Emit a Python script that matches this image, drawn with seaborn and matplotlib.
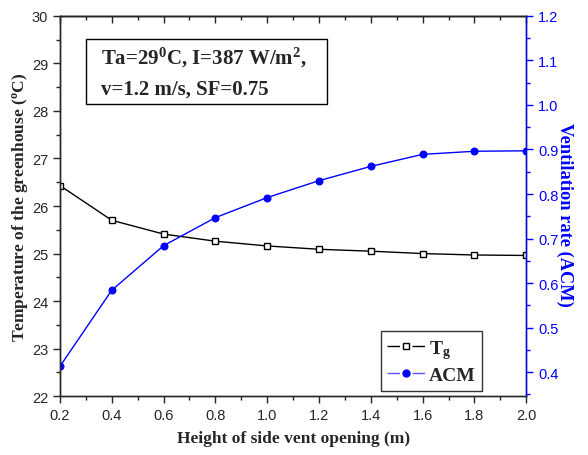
import matplotlib
matplotlib.use("Agg")
import matplotlib.pyplot as plt
import seaborn as sns
import pandas as pd
from matplotlib.ticker import MultipleLocator
from matplotlib.lines import Line2D
from matplotlib.patches import Rectangle

height = [0.2, 0.4, 0.6, 0.8, 1.0, 1.2, 1.4, 1.6, 1.8, 2.0]
tg = [26.43, 25.70, 25.41, 25.26, 25.16, 25.09, 25.05, 25.00, 24.97, 24.96]
acm = [0.413, 0.584, 0.684, 0.747, 0.792, 0.830, 0.862, 0.889, 0.896, 0.897]
x_ticks = [0.2, 0.4, 0.6, 0.8, 1.0, 1.2, 1.4, 1.6, 1.8, 2.0]
left_ticks = [22, 23, 24, 25, 26, 27, 28, 29, 30]
right_ticks = [0.4, 0.5, 0.6, 0.7, 0.8, 0.9, 1.0, 1.1, 1.2]

sns.set_style("ticks")
plt.rcParams['font.family'] = ['Liberation Sans', 'DejaVu Sans']
plt.rcParams['mathtext.fontset'] = 'custom'
plt.rcParams['mathtext.rm'] = 'Liberation Serif:bold'
plt.rcParams['mathtext.bf'] = 'Liberation Serif:bold'
plt.rcParams['mathtext.it'] = 'Liberation Serif:bold'

BLUE = "#0000FF"
df = pd.DataFrame({"h": height, "tg": tg, "acm": acm})

fig = plt.figure(figsize=(5.88, 4.56), dpi=100)
ax = fig.add_axes([0.102, 0.129, 0.793, 0.834])
ax2 = ax.twinx()

sns.lineplot(data=df, x="h", y="tg", ax=ax, color="black", lw=1.0,
             marker="s", markersize=4.5, markerfacecolor="white",
             markeredgecolor="black", markeredgewidth=1.0, legend=False)
sns.lineplot(data=df, x="h", y="acm", ax=ax2, color=BLUE, lw=1.0,
             marker="o", markersize=5, markerfacecolor=BLUE,
             markeredgecolor=BLUE, legend=False)

ax.set_xlim(0.2, 2.0)
ax.set_ylim(22, 30)
ax2.set_ylim(0.346, 1.2)
ax.set_xticks(x_ticks)
ax.xaxis.set_minor_locator(MultipleLocator(0.1))
ax.set_yticks(left_ticks)
ax.yaxis.set_minor_locator(MultipleLocator(0.5))
ax2.set_yticks(right_ticks)
ax2.yaxis.set_minor_locator(MultipleLocator(0.05))

for a in (ax, ax2):
    for s in a.spines.values():
        s.set_linewidth(1.0)
ax2.spines['right'].set_color(BLUE)

ax.tick_params(axis='both', which='major', labelsize=10.5, length=5, width=1, direction='out')
ax.tick_params(axis='both', which='minor', length=3, width=1, direction='out')
ax.tick_params(axis='x', which='both', top=False)
ax2.tick_params(axis='y', which='major', labelsize=10.5, length=5, width=1,
                colors=BLUE, direction='out')
ax2.tick_params(axis='y', which='minor', length=3, width=1, colors=BLUE, direction='out')

top = ax.secondary_xaxis('top')
top.set_xticks(x_ticks)
top.xaxis.set_minor_locator(MultipleLocator(0.1))
top.tick_params(which='major', direction='in', length=5, width=1, labeltop=False)
top.tick_params(which='minor', direction='in', length=3, width=1)
top.spines['top'].set_linewidth(1.0)

ax.set_xlabel("Height of side vent opening (m)", family='Liberation Serif',
              weight='bold', size=12.5, labelpad=6)
ax.set_ylabel(r"Temperature of the greenhouse ($^\mathbf{o}$C)", family='Liberation Serif',
              weight='bold', size=12.5, labelpad=1)
ax2.set_ylabel("Ventilation rate (ACM)", family='Liberation Serif', weight='bold',
               size=13.2, color=BLUE, rotation=270, labelpad=11)
ax2.yaxis.label.set_y(0.48)

# annotation box
ax2.add_patch(Rectangle((0.056, 0.768), 0.517, 0.1715, transform=ax.transAxes,
                        facecolor='white', edgecolor='black', lw=1.0, zorder=5))
tkw = dict(transform=ax.transAxes, ha='left', va='baseline', fontsize=15,
           fontfamily='Liberation Serif', fontweight='bold', zorder=6)
ax2.text(0.088, 0.874, "Ta=29$^\\mathbf{0}$C, I=387 W/m$^\\mathbf{2}$,", **tkw)
ax2.text(0.088, 0.795, "v=1.2 m/s, SF=0.75", **tkw)

dash = (0, (9, 9))
handles = [
    Line2D([], [], color='black', lw=1.0, linestyle=dash, marker='s', markersize=4.5,
           markerfacecolor='white', markeredgecolor='black'),
    Line2D([], [], color='#5a5aff', lw=1.0, linestyle=dash, marker='o', markersize=5,
           markerfacecolor=BLUE, markeredgecolor=BLUE),
]
leg = ax2.legend(handles, [r"T$_\mathbf{g}$", "ACM"], loc='lower right',
                 bbox_to_anchor=(0.906, 0.014), borderaxespad=0, frameon=True, fancybox=False,
                 edgecolor='black', prop=dict(family='Liberation Serif', weight='bold', size=14),
                 handlelength=1.93, handletextpad=0.2, borderpad=0.35, labelspacing=0.3)
leg.get_frame().set_linewidth(1.0)
leg.set_zorder(7)

fig.savefig("out.png", dpi=100)
